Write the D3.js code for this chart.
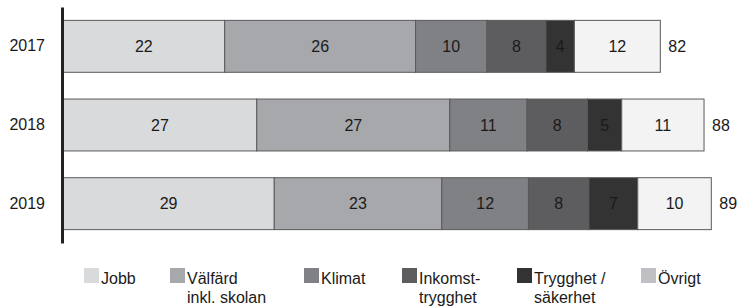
<!DOCTYPE html>
<html>
<head>
<meta charset="utf-8">
<script src="https://cdn.jsdelivr.net/npm/d3@7"></script>
<style>
    body { margin: 0; background: #fff; }
    text { font-family: "Liberation Sans", Arial, sans-serif; }
</style>
</head>
<body>
<div class="usable"></div>
<script>
// år och kategorier
const years = ["2017", "2018", "2019"]
const categories = ["Jobb", "Välfärd inkl. skolan", "Klimat", "Inkomst-trygghet", "Trygghet / säkerhet", "Övrigt"]
const legendLines = [["Jobb"], ["Välfärd", "inkl. skolan"], ["Klimat"], ["Inkomst-", "trygghet"], ["Trygghet /", "säkerhet"], ["Övrigt"]]

// värden per kategori (2017, 2018, 2019)
const jobb = [22.2, 26.6, 29.0]
const valfard = [26.2, 26.5, 23.0]
const klimat = [9.8, 10.6, 11.9]
const inkomst = [8.1, 8.3, 8.3]
const trygghet = [3.9, 4.7, 6.7]
const ovrigt = [11.8, 11.3, 10.1]
const series = [jobb, valfard, klimat, inkomst, trygghet, ovrigt]

const barColors = ["#d9dadc", "#a7a8ab", "#808184", "#5d5d60", "#333333", "#f2f3f2"]
const legendColors = ["#d9dadc", "#a7a8ab", "#808184", "#5d5d60", "#333333", "#c0c0c4"]
const legendX = [84, 170, 304, 402, 517, 641]

const width = 740, height = 307
const fs = 16

let svg = d3.select(".usable").append("svg")
    .attr("width", width)
    .attr("height", height)

let x = d3.scaleLinear().domain([0, 90]).range([63, 718.6])
let y = d3.scaleBand().domain(years).range([7, 243])
    .paddingInner(0.34).paddingOuter(0.17)

// bygg staplade rader
let rows = years.map((yr, i) => {
    let acc = 0
    let segs = series.map((s, k) => {
        let seg = { year: yr, k: k, v: s[i], x0: acc, x1: acc + s[i] }
        acc += s[i]
        return seg
    })
    return { year: yr, segs: segs, total: acc }
})

let g = svg.append("g")

rows.forEach(row => {
    let rg = g.append("g")
    rg.selectAll("rect").data(row.segs).enter().append("rect")
        .attr("x", d => x(d.x0))
        .attr("y", y(row.year))
        .attr("width", d => x(d.x1) - x(d.x0))
        .attr("height", y.bandwidth())
        .attr("fill", d => barColors[d.k])
        .attr("stroke", "#5a5a5a")
        .attr("stroke-width", 1)

    rg.selectAll("text.v").data(row.segs).enter().append("text")
        .attr("class", "v")
        .attr("x", d => (x(d.x0) + x(d.x1)) / 2)
        .attr("y", y(row.year) + y.bandwidth() / 2)
        .attr("dy", "0.36em")
        .attr("text-anchor", "middle")
        .attr("font-size", fs)
        .attr("fill", "#1a1a1a")
        .text(d => Math.round(d.v))

    rg.append("text")
        .attr("x", x(row.total) + 8)
        .attr("y", y(row.year) + y.bandwidth() / 2)
        .attr("dy", "0.36em")
        .attr("font-size", fs)
        .attr("fill", "#1a1a1a")
        .text(Math.round(row.total))
})

// y-axel
let axis = svg.append("g")
    .attr("transform", "translate(62,0)")
    .call(d3.axisLeft(y).tickSize(0).tickSizeOuter(0).tickPadding(17))
axis.select(".domain").attr("stroke", "#222").attr("stroke-width", 3)
axis.selectAll("text")
    .attr("font-size", fs)
    .attr("fill", "#1a1a1a")
    .style("font-family", "'Liberation Sans', Arial, sans-serif")

// legend
let lg = svg.append("g")
categories.forEach((c, k) => {
    lg.append("rect")
        .attr("x", legendX[k])
        .attr("y", 268)
        .attr("width", 15)
        .attr("height", 15)
        .attr("fill", legendColors[k])
    let t = lg.append("text")
        .attr("x", legendX[k] + 17)
        .attr("y", 284)
        .attr("font-size", fs)
        .attr("fill", "#1a1a1a")
    legendLines[k].forEach((line, j) => {
        t.append("tspan")
            .attr("x", legendX[k] + 17)
            .attr("y", 284 + j * 19)
            .text(line)
    })
})
</script>
</body>
</html>
